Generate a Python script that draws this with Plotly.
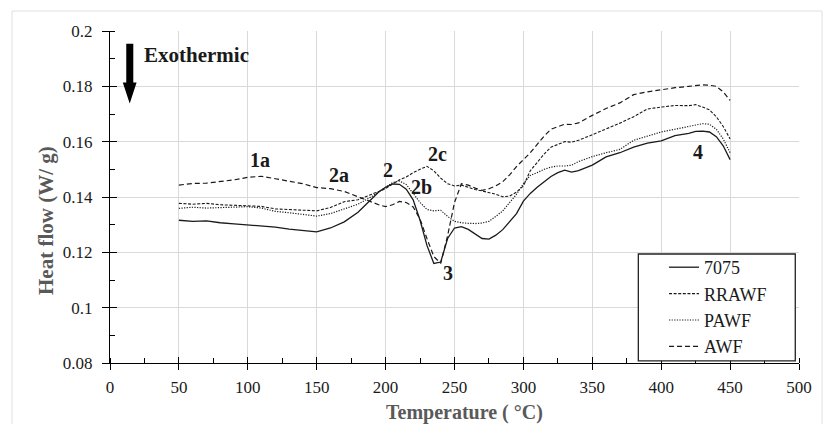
import plotly.graph_objects as go

# ---------------- data ----------------
temperature = [50, 60, 70, 80, 90, 100, 110, 120, 130, 140, 150, 160, 170, 180, 190, 195,
               200, 205, 210, 215, 220, 225, 230, 235, 240, 245, 250, 255, 260, 265, 270,
               275, 280, 285, 290, 295, 300, 305, 310, 315, 320, 325, 330, 335, 340, 350,
               360, 370, 380, 390, 400, 410, 420, 425, 430, 435, 440, 445, 450]

hf_7075 = [0.1316, 0.1312, 0.1314, 0.1307, 0.1303, 0.1299, 0.1296, 0.1291, 0.1284, 0.1280,
           0.1274, 0.1288, 0.1310, 0.1345, 0.1395, 0.1418, 0.1435, 0.1447, 0.1446, 0.1428,
           0.1390, 0.1316, 0.1225, 0.1160, 0.1165, 0.1250, 0.1288, 0.1293, 0.1283, 0.1265,
           0.1250, 0.1248, 0.1262, 0.1282, 0.1310, 0.1340, 0.1385, 0.1413, 0.1435, 0.1455,
           0.1474, 0.1488, 0.1497, 0.1490, 0.1495, 0.1515, 0.1545, 0.1560, 0.1580, 0.1595,
           0.1603, 0.1622, 0.1630, 0.1637, 0.1638, 0.1635, 0.1618, 0.1585, 0.1535]

hf_rrawf = [0.1377, 0.1374, 0.1377, 0.1372, 0.1370, 0.1367, 0.1366, 0.1357, 0.1355, 0.1352,
            0.1350, 0.1362, 0.1383, 0.1390, 0.1410, 0.1418, 0.1430, 0.1447, 0.1462, 0.1472,
            0.1488, 0.1500, 0.1511, 0.1495, 0.1468, 0.1448, 0.1440, 0.1443, 0.1435, 0.1427,
            0.1422, 0.1416, 0.1410, 0.1401, 0.1403, 0.1418, 0.1440, 0.1495, 0.1525, 0.1555,
            0.1580, 0.1590, 0.1600, 0.1598, 0.1605, 0.1625, 0.1645, 0.1667, 0.1690, 0.1718,
            0.1725, 0.1731, 0.1730, 0.1734, 0.1725, 0.1715, 0.1690, 0.1655, 0.1610]

hf_pawf = [0.1359, 0.1363, 0.1360, 0.1362, 0.1364, 0.1365, 0.1360, 0.1348, 0.1343, 0.1337,
           0.1331, 0.1340, 0.1358, 0.1374, 0.1402, 0.1418, 0.1436, 0.1452, 0.1458, 0.1445,
           0.1413, 0.1380, 0.1355, 0.1350, 0.1352, 0.1330, 0.1312, 0.1307, 0.1305, 0.1304,
           0.1306, 0.1312, 0.1330, 0.1350, 0.1380, 0.1410, 0.1448, 0.1478, 0.1488, 0.1500,
           0.1508, 0.1512, 0.1512, 0.1515, 0.1528, 0.1546, 0.1560, 0.1572, 0.1605, 0.1620,
           0.1635, 0.1645, 0.1655, 0.1662, 0.1665, 0.1663, 0.1645, 0.1610, 0.1560]

hf_awf = [0.1443, 0.1449, 0.1450, 0.1455, 0.1462, 0.1471, 0.1475, 0.1466, 0.1456, 0.1448,
          0.1434, 0.1430, 0.1420, 0.1400, 0.1382, 0.1372, 0.1365, 0.1372, 0.1384, 0.1380,
          0.1364, 0.1320, 0.1250, 0.1185, 0.1160, 0.1260, 0.1380, 0.1448, 0.1443, 0.1432,
          0.1424, 0.1430, 0.1440, 0.1455, 0.1480, 0.1510, 0.1535, 0.1560, 0.1590, 0.1620,
          0.1645, 0.1655, 0.1663, 0.1662, 0.1668, 0.1695, 0.1720, 0.1740, 0.1770, 0.1780,
          0.1788, 0.1795, 0.1800, 0.1803, 0.1805, 0.1804, 0.1800, 0.1780, 0.1749]

series_names = ["7075", "RRAWF", "PAWF", "AWF"]

x_ticks = [0, 50, 100, 150, 200, 250, 300, 350, 400, 450, 500]
y_tickvals = [0.08, 0.10, 0.12, 0.14, 0.16, 0.18, 0.20]
y_ticktext = ["0.08", "0.1", "0.12", "0.14", "0.16", "0.18", "0.2"]

peak_labels = ["1a", "2a", "2", "2c", "2b", "3", "4"]
peak_x = [109, 166, 202, 238, 226, 245, 427]
peak_y = [0.1533, 0.1479, 0.1499, 0.1554, 0.1437, 0.1124, 0.1562]

# ---------------- figure ----------------
SERIF = "Liberation Serif"
INK = "#1a1a1a"
GRID = "#d9d9d9"
TITLE_GREY = "#595959"

styles = {
    "7075": dict(dash="solid", width=1.3),
    "RRAWF": dict(dash="3px,1.6px", width=1.1),
    "PAWF": dict(dash="1.2px,1.4px", width=1.2),
    "AWF": dict(dash="5px,3px", width=1.2),
}
values = {"7075": hf_7075, "RRAWF": hf_rrawf, "PAWF": hf_pawf, "AWF": hf_awf}

fig = go.Figure()
for name in series_names:
    st = styles[name]
    fig.add_trace(go.Scatter(
        x=temperature, y=values[name], mode="lines", name=name,
        legendgroup=name,
        line=dict(color=INK, width=st["width"], dash=st["dash"]),
    ))

# empty helper trace on overlay axes (they draw the inner half of the crossing ticks)
fig.add_trace(go.Scatter(x=[None], y=[None], xaxis="x2", yaxis="y2", mode="lines",
                         showlegend=False, hoverinfo="skip"))

for lab, lx, ly in zip(peak_labels, peak_x, peak_y):
    fig.add_annotation(x=lx, y=ly, text=f"<b>{lab}</b>", showarrow=False,
                       font=dict(family=SERIF, size=20, color=INK))

# Exothermic arrow
fig.add_shape(type="path", xref="x", yref="y",
              path="M 11.8 0.1954 L 16.9 0.1954 L 16.9 0.1814 L 19.3 0.1814 L 14.3 0.1738 "
                   "L 9.3 0.1814 L 11.8 0.1814 Z",
              fillcolor="black", line=dict(color="black", width=0))
fig.add_annotation(x=23, y=0.1914, xanchor="left", yanchor="middle",
                   text="<b>Exothermic</b>", showarrow=False,
                   font=dict(family=SERIF, size=21, color=INK))

# axis titles
fig.add_annotation(xref="paper", yref="paper", x=0.5138, y=-0.1506,
                   text="<b>Temperature ( °C)</b>", showarrow=False,
                   xanchor="center", yanchor="middle",
                   font=dict(family=SERIF, size=20, color=TITLE_GREY))
fig.add_annotation(xref="paper", yref="paper", x=-0.0929, y=0.4307, textangle=-90,
                   text="<b>Heat flow (W/ g)</b>", showarrow=False,
                   xanchor="center", yanchor="middle",
                   font=dict(family=SERIF, size=21, color=TITLE_GREY))

# legend box
fig.add_shape(type="rect", xref="x", yref="y", x0=383.4, x1=497.3, y0=0.0808, y1=0.1194,
              fillcolor="white", line=dict(color="#222222", width=1.3), layer="above")

# outer light frame
fig.add_shape(type="rect", xref="paper", yref="paper",
              x0=-0.1422, x1=1.0334, y0=-0.25, y1=1.0602,
              line=dict(color="#e0e0e0", width=1), fillcolor="rgba(0,0,0,0)")

fig.update_layout(
    template="none",
    width=823, height=416,
    margin=dict(l=102, r=32, t=23, b=61),
    paper_bgcolor="white", plot_bgcolor="white",
    font=dict(family=SERIF, size=17, color=INK),
    showlegend=True,
    legend=dict(x=0.8041, xanchor="left", y=0.3434, yanchor="top",
                bgcolor="rgba(0,0,0,0)", borderwidth=0, tracegroupgap=0,
                font=dict(family=SERIF, size=18, color=INK), itemwidth=30),
    xaxis=dict(range=[0, 500], tickvals=x_ticks, showgrid=True, gridcolor=GRID,
               gridwidth=1, ticks="outside", ticklen=6, tickcolor="black", tickwidth=1.2,
               showline=True, linecolor="black", linewidth=1.3, zeroline=False,
               tickfont=dict(family=SERIF, size=17, color=INK), ticklabelstandoff=2,
               minor=dict(dtick=25, tick0=0, ticks="inside", ticklen=5,
                          tickcolor="black", tickwidth=1.1, showgrid=False)),
    yaxis=dict(range=[0.08, 0.2], tickvals=y_tickvals, ticktext=y_ticktext,
               showgrid=True, gridcolor=GRID, gridwidth=1, ticks="outside", ticklen=7,
               tickcolor="black", tickwidth=1.2, showline=True, linecolor="black",
               linewidth=1.3, zeroline=False,
               tickfont=dict(family=SERIF, size=17, color=INK), ticklabelstandoff=6,
               minor=dict(dtick=0.01, tick0=0.08, ticks="inside", ticklen=5,
                          tickcolor="black", tickwidth=1.1, showgrid=False)),
    xaxis2=dict(overlaying="x", anchor="y", side="bottom", range=[0, 500],
                tickvals=x_ticks, showticklabels=False, showgrid=False, showline=False,
                zeroline=False, ticks="inside", ticklen=6, tickcolor="black",
                tickwidth=1.2),
    yaxis2=dict(overlaying="y", anchor="x", side="left", range=[0.08, 0.2],
                tickvals=y_tickvals, showticklabels=False, showgrid=False,
                showline=False, zeroline=False, ticks="inside", ticklen=7,
                tickcolor="black", tickwidth=1.2),
)

fig.write_html("out.html")
